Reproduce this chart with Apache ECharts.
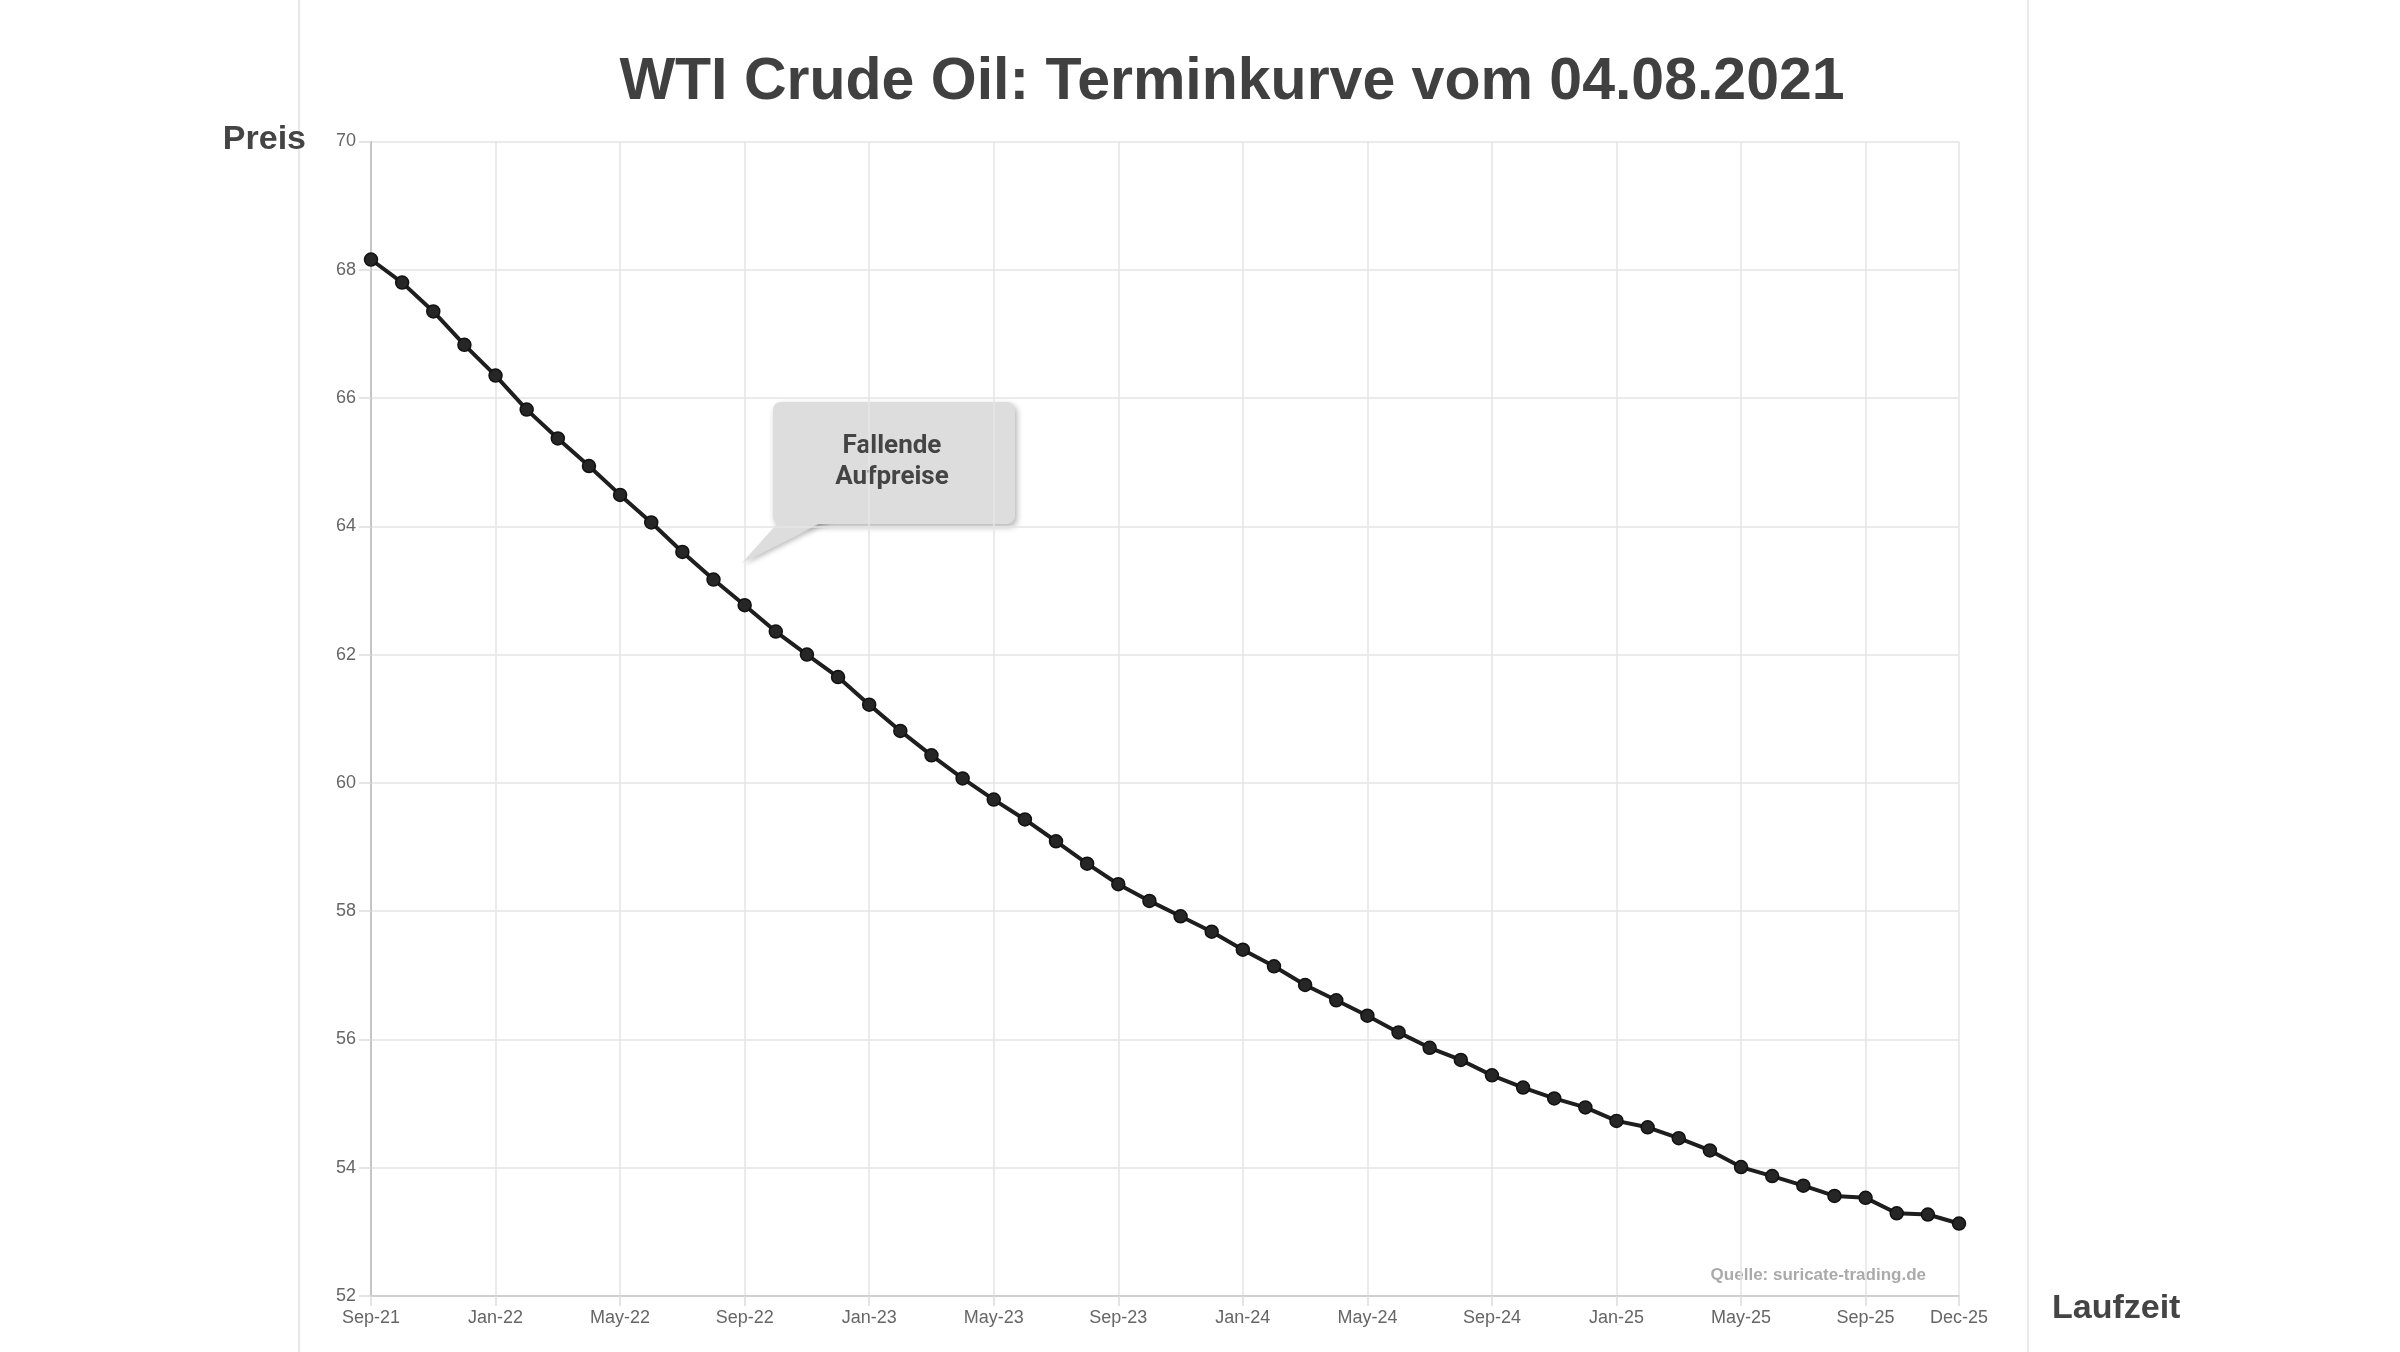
<!DOCTYPE html>
<html>
<head>
<meta charset="utf-8">
<title>WTI Crude Oil Terminkurve</title>
<script src="https://cdn.jsdelivr.net/npm/echarts@6/dist/echarts.min.js"></script>
<style>
    html, body { margin: 0; padding: 0; background: #fff; }
    #chart { width: 2400px; height: 1352px; }
</style>
</head>
<body>
<div id="chart"></div>
<script>
// Laufzeiten (monatliche Kontrakte)
const months = [
    'Sep-21', 'Oct-21', 'Nov-21', 'Dec-21',
    'Jan-22', 'Feb-22', 'Mar-22', 'Apr-22', 'May-22', 'Jun-22', 'Jul-22', 'Aug-22', 'Sep-22', 'Oct-22', 'Nov-22', 'Dec-22',
    'Jan-23', 'Feb-23', 'Mar-23', 'Apr-23', 'May-23', 'Jun-23', 'Jul-23', 'Aug-23', 'Sep-23', 'Oct-23', 'Nov-23', 'Dec-23',
    'Jan-24', 'Feb-24', 'Mar-24', 'Apr-24', 'May-24', 'Jun-24', 'Jul-24', 'Aug-24', 'Sep-24', 'Oct-24', 'Nov-24', 'Dec-24',
    'Jan-25', 'Feb-25', 'Mar-25', 'Apr-25', 'May-25', 'Jun-25', 'Jul-25', 'Aug-25', 'Sep-25', 'Oct-25', 'Nov-25', 'Dec-25'
];

// Preis je Kontrakt (USD)
const prices = [
    68.16, 67.80, 67.35, 66.83,
    66.35, 65.82, 65.37, 64.94, 64.49, 64.06, 63.60, 63.17, 62.77, 62.36, 62.00, 61.65,
    61.22, 60.81, 60.43, 60.07, 59.74, 59.43, 59.09, 58.74, 58.42, 58.16, 57.92, 57.68,
    57.40, 57.14, 56.85, 56.61, 56.37, 56.11, 55.87, 55.68, 55.44, 55.25, 55.08, 54.94,
    54.73, 54.63, 54.46, 54.27, 54.01, 53.87, 53.72, 53.56, 53.53, 53.29, 53.27, 53.13
];

// y-Achse
const yMin = 52;
const yMax = 70;
const yStep = 2;

const titleText = 'WTI Crude Oil: Terminkurve vom 04.08.2021';
const calloutText = 'Fallende\nAufpreise';
const sourceText = 'Quelle: suricate-trading.de';

const FONT = '"Liberation Sans", Arial, sans-serif';

// nur jeden 4. Monat beschriften, plus den letzten
function showMonth(idx) {
    return idx % 4 === 0 || idx === months.length - 1;
}

const chart = echarts.init(document.getElementById('chart'));

chart.setOption({
    backgroundColor: '#fff',
    animation: false,
    grid: {
        left: 371,
        right: 441,
        top: 141.5,
        bottom: 56
    },
    xAxis: {
        type: 'category',
        data: months,
        boundaryGap: false,
        axisLine: { show: true, lineStyle: { color: '#c8c8c8', width: 1.5 } },
        axisTick: {
            show: true,
            length: 10,
            interval: showMonth,
            lineStyle: { color: '#dcdcdc', width: 1.5 }
        },
        axisLabel: {
            interval: showMonth,
            color: '#666',
            fontFamily: FONT,
            fontSize: 18,
            margin: 13
        },
        splitLine: {
            show: true,
            interval: showMonth,
            lineStyle: { color: '#e4e4e4', width: 1.5 }
        }
    },
    yAxis: {
        type: 'value',
        min: yMin,
        max: yMax,
        interval: yStep,
        axisLine: { show: true, lineStyle: { color: '#b8b8b8', width: 1.5 } },
        axisTick: { show: true, length: 12, lineStyle: { color: '#dcdcdc', width: 1.5 } },
        axisLabel: {
            color: '#666',
            fontFamily: FONT,
            fontSize: 18,
            margin: 15
        },
        splitLine: { show: true, lineStyle: { color: '#e4e4e4', width: 1.5 } }
    },
    series: [{
        type: 'line',
        data: prices,
        symbol: 'circle',
        symbolSize: 13,
        lineStyle: { color: '#1e1e1e', width: 4 },
        itemStyle: { color: '#262626', borderColor: '#111', borderWidth: 1.5 },
        z: 5
    }],
    graphic: [
        // Folienränder
        { type: 'line', shape: { x1: 299, y1: 0, x2: 299, y2: 1352 }, style: { stroke: '#e2e2e2', lineWidth: 1.5 }, silent: true },
        { type: 'line', shape: { x1: 2028, y1: 0, x2: 2028, y2: 1352 }, style: { stroke: '#e2e2e2', lineWidth: 1.5 }, silent: true },
        {
            type: 'text',
            x: 1232, y: 83,
            style: {
                text: titleText,
                fill: '#404040',
                font: 'bold 59px ' + FONT,
                textAlign: 'center',
                textVerticalAlign: 'middle'
            }
        },
        {
            type: 'text',
            x: 306, y: 140,
            style: {
                text: 'Preis',
                fill: '#444',
                font: 'bold 34px ' + FONT,
                textAlign: 'right',
                textVerticalAlign: 'middle'
            }
        },
        {
            type: 'text',
            x: 2052, y: 1309,
            style: {
                text: 'Laufzeit',
                fill: '#444',
                font: 'bold 34px ' + FONT,
                textAlign: 'left',
                textVerticalAlign: 'middle'
            }
        },
        {
            type: 'text',
            x: 1926, y: 1275,
            style: {
                text: sourceText,
                fill: '#aaa',
                font: 'bold 17px ' + FONT,
                textAlign: 'right',
                textVerticalAlign: 'middle'
            }
        },
        // Sprechblase
        {
            type: 'group',
            z: 10,
            children: [
                {
                    type: 'polygon',
                    shape: { points: [[784, 518], [832, 518], [742, 563]] },
                    style: {
                        fill: '#dddddd',
                        shadowColor: 'rgba(0,0,0,0.25)',
                        shadowBlur: 5,
                        shadowOffsetX: 2,
                        shadowOffsetY: 2
                    }
                },
                {
                    type: 'rect',
                    shape: { x: 773, y: 402, width: 242, height: 122, r: 8 },
                    style: {
                        fill: '#dddddd',
                        shadowColor: 'rgba(0,0,0,0.3)',
                        shadowBlur: 6,
                        shadowOffsetX: 2,
                        shadowOffsetY: 3
                    }
                },
                {
                    type: 'polygon',
                    shape: { points: [[784, 516], [834, 516], [744, 561]] },
                    style: { fill: '#dddddd' }
                },
                {
                    type: 'text',
                    x: 892, y: 462,
                    style: {
                        text: calloutText,
                        fill: '#444',
                        font: 'bold 26px Roboto, "Liberation Sans", sans-serif',
                        lineHeight: 31,
                        textAlign: 'center',
                        textVerticalAlign: 'middle'
                    }
                }
            ]
        }
    ]
});
</script>
</body>
</html>
